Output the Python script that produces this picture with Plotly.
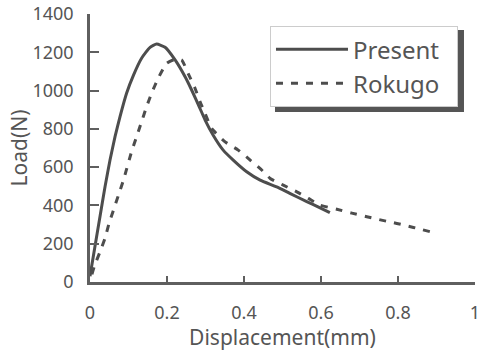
import plotly.graph_objects as go

# ---- data ----
present_x = [0.0, 0.012, 0.025, 0.039, 0.052, 0.065, 0.078, 0.095, 0.113, 0.134, 0.156,
             0.173, 0.195, 0.221, 0.247, 0.264, 0.285, 0.299, 0.32, 0.346, 0.372,
             0.407, 0.442, 0.485, 0.519, 0.563, 0.595, 0.623]
present_y = [30, 175, 330, 498, 637, 759, 864, 986, 1081, 1169, 1226,
             1243, 1226, 1160, 1072, 1003, 910, 846, 767, 689, 637,
             576, 532, 497, 463, 420, 390, 362]

rokugo_x = [0.005, 0.011, 0.026, 0.039, 0.049, 0.061, 0.074, 0.087, 0.108, 0.121, 0.134,
            0.147, 0.16, 0.177, 0.199, 0.22, 0.238, 0.255, 0.273, 0.286, 0.299, 0.316,
            0.351, 0.385, 0.416, 0.446, 0.468, 0.502, 0.537, 0.567, 0.597, 0.641, 0.68,
            0.719, 0.76, 0.797, 0.84, 0.883]
rokugo_y = [40, 80, 158, 228, 303, 376, 454, 533, 681, 759, 837,
            916, 986, 1064, 1142, 1163, 1160, 1089, 1011, 941, 880, 802,
            732, 689, 637, 585, 541, 506, 471, 437, 402, 380, 360,
            341, 322, 306, 285, 263]

x_ticks = [0, 0.2, 0.4, 0.6, 0.8, 1]
x_tick_labels = ["0", "0.2", "0.4", "0.6", "0.8", "1"]
y_ticks = [0, 200, 400, 600, 800, 1000, 1200, 1400]
y_tick_labels = ["0", "200", "400", "600", "800", "1000", "1200", "1400"]

LINE = "#4d4d4d"
AXIS = "#5f5f5f"
TXT = "#555555"
FONT = "Noto Sans"
NB = "\u00a0"

fig = go.Figure()
fig.add_trace(go.Scatter(x=present_x, y=present_y, mode="lines", name="Present" + NB * 2,
                         line=dict(color=LINE, width=3, shape="spline", smoothing=0.5),
                         legendgroup="a"))
fig.add_trace(go.Scatter(x=rokugo_x, y=rokugo_y, mode="lines", name="Rokugo",
                         line=dict(color=LINE, width=3, dash="7px,8px", shape="spline", smoothing=0.5),
                         legendgroup="b"))

fig.update_layout(
    width=477, height=351,
    margin=dict(l=90, r=2, t=14, b=69),
    paper_bgcolor="white", plot_bgcolor="white",
    font=dict(family=FONT, color=TXT, size=18),
    showlegend=True,
    legend=dict(x=0.4675, y=0.804, xanchor="left", yanchor="middle",
                bgcolor="white", bordercolor="#cccccc", borderwidth=1,
                font=dict(size=24, color=TXT, family=FONT),
                itemwidth=72, traceorder="grouped", tracegroupgap=0),
    shapes=[dict(type="rect", xref="paper", yref="paper",
                 x0=0.4805, x1=0.9714, y0=0.634, y1=0.940,
                 fillcolor="#555555", line=dict(width=0), layer="above")],
)

fig.update_xaxes(range=[0, 1], tickmode="array", tickvals=x_ticks, ticktext=x_tick_labels,
                 automargin=False, ticklabeloverflow="allow",
                 showgrid=False, zeroline=False, showline=True, linecolor=AXIS, linewidth=2.5,
                 ticks="inside", ticklen=6, tickwidth=2, tickcolor=AXIS,
                 ticklabelstandoff=13,
                 title=dict(text="Displacement(mm)", font=dict(size=21, color=TXT), standoff=8))
fig.update_yaxes(range=[0, 1400], tickmode="array", tickvals=y_ticks, ticktext=y_tick_labels,
                 automargin=False,
                 showgrid=False, zeroline=False, showline=True, linecolor=AXIS, linewidth=2.5,
                 ticks="inside", ticklen=9, tickwidth=2, tickcolor=AXIS,
                 ticklabelstandoff=10,
                 title=dict(text="Load(N)", font=dict(size=21, color=TXT), standoff=0))

fig.write_html("out.html",
               config={"displayModeBar": False},
               post_script="document.body.style.margin='0';document.body.style.overflow='hidden';")
